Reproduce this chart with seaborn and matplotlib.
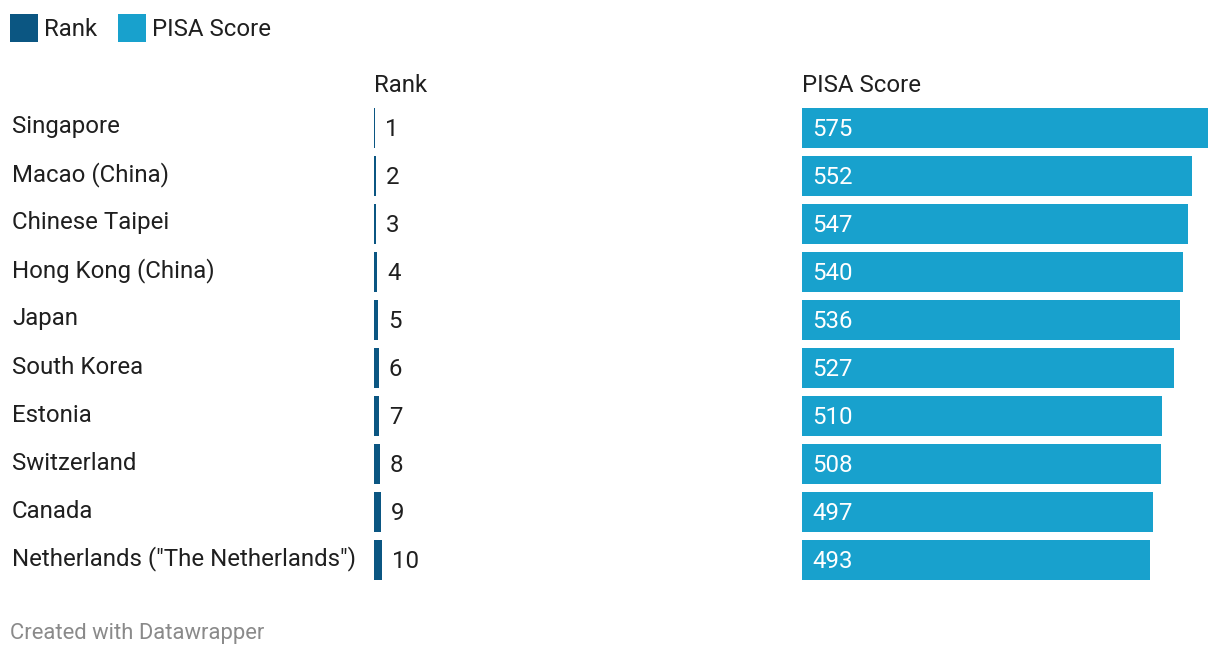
import matplotlib
matplotlib.use("Agg")
import matplotlib.pyplot as plt
import seaborn as sns
import pandas as pd
from matplotlib.patches import Rectangle

countries = ["Singapore", "Macao (China)", "Chinese Taipei", "Hong Kong (China)", "Japan",
             "South Korea", "Estonia", "Switzerland", "Canada", 'Netherlands ("The Netherlands")']
ranks = [1, 2, 3, 4, 5, 6, 7, 8, 9, 10]
scores = [575, 552, 547, 540, 536, 527, 510, 508, 497, 493]

RANK_COLOR = "#0b5682"
PISA_COLOR = "#18a1cd"
TEXT = "#1f1f1f"

sns.set_theme(style="white")
plt.rcParams["font.family"] = ["Roboto", "DejaVu Sans"]

df = pd.DataFrame({"country": countries, "rank": ranks, "score": scores})

W, H = 1220, 656
fig = plt.figure(figsize=(W / 100, H / 100), dpi=100)

def px_axes(x0, y0, x1, y1):
    return fig.add_axes([x0 / W, 1 - y1 / H, (x1 - x0) / W, (y1 - y0) / H])

top, bottom = 104, 584
fs = 17.3

# Rank column
ax_r = px_axes(374, top, 382, bottom)
sns.barplot(data=df, y="country", x="rank", orient="h", color=RANK_COLOR,
            width=40 / 48, saturation=1, ax=ax_r)
ax_r.set_xlim(0, 10.5)

# PISA column
ax_p = px_axes(802, top, 1208, bottom)
sns.barplot(data=df, y="country", x="score", orient="h", color=PISA_COLOR,
            width=40 / 48, saturation=1, ax=ax_p)
ax_p.set_xlim(0, 575)

for ax in (ax_r, ax_p):
    ax.set_ylim(len(countries) - 0.5, -0.5)
    ax.set_axis_off()
    for bar in ax.patches:
        bar.set_edgecolor("none")
        bar.set_linewidth(0)

# labels
for i, (c, r, s) in enumerate(zip(countries, ranks, scores)):
    yc = top + 48 * i + 24
    fig.text(12 / W, 1 - (yc - 1) / H, c, fontsize=fs, color=TEXT, va="center", ha="left")
    ax_r.annotate(str(r), xy=(r, i), xytext=(10, -1), textcoords="offset pixels",
                  fontsize=fs, color=TEXT, va="center", ha="left")
    ax_p.annotate(str(s), xy=(0, i), xytext=(10, -1), textcoords="offset pixels",
                  fontsize=fs, color="white", va="center", ha="left")

# column headers
fig.text(374 / W, 1 - 86 / H, "Rank", fontsize=fs, color=TEXT, va="center", ha="left")
fig.text(802 / W, 1 - 86 / H, "PISA Score", fontsize=fs, color=TEXT, va="center", ha="left")

# legend
fig.patches.append(Rectangle((10 / W, 1 - 42 / H), 28 / W, 28 / H, transform=fig.transFigure,
                             facecolor=RANK_COLOR, edgecolor="none"))
fig.text(44 / W, 1 - 30 / H, "Rank", fontsize=fs, color=TEXT, va="center", ha="left")
fig.patches.append(Rectangle((118 / W, 1 - 42 / H), 28 / W, 28 / H, transform=fig.transFigure,
                             facecolor=PISA_COLOR, edgecolor="none"))
fig.text(152 / W, 1 - 30 / H, "PISA Score", fontsize=fs, color=TEXT, va="center", ha="left")

# footer
fig.text(10 / W, 1 - 634 / H, "Created with Datawrapper", fontsize=15.8, color="#8a8a8a",
         va="center", ha="left")

fig.savefig("out.png", dpi=100, facecolor="white")
